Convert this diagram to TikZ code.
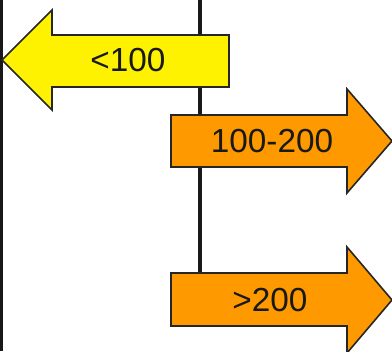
\documentclass[tikz,border=0pt]{standalone}
\usepackage{fontspec}
\setmainfont{Liberation Sans}
\usetikzlibrary{positioning}

\definecolor{rangeorange}{RGB}{255,153,0}

\begin{document}
\begin{tikzpicture}[x=0.75pt,y=-0.75pt,
    axis/.style={line width=2.6pt, black!90},
    lowarrow/.style={fill=yellow, draw=black!85, line width=1.2pt, line join=miter},
    higharrow/.style={fill=rangeorange, draw=black!85, line width=1.2pt, line join=miter},
    rangelabel/.style={font=\fontsize{25}{30}\selectfont, text=black!90}]
    \useasboundingbox (0,0) rectangle (392,351);

    % axis lines
    \coordinate (lefttop) at (1.5,0);
    \coordinate (leftbot) at (1.5,351);
    \coordinate (midtop)  at (200,0);
    \coordinate (midbot)  at (200,273);
    \draw[axis] (lefttop) -- (leftbot);
    \draw[axis] (midtop) -- (midbot);

    % arrows
    \draw[lowarrow] (229,35) -- (52,35) -- (52,10) -- (2,60) -- (52,110) -- (52,87) -- (229,87) -- cycle;
    \draw[higharrow] (171,115) -- (347,115) -- (347,89) -- (392,141) -- (347,193) -- (347,167) -- (171,167) -- cycle;
    \draw[higharrow] (171,273) -- (347,273) -- (347,247) -- (392,300) -- (347,353) -- (347,326) -- (171,326) -- cycle;

    % labels
    \node[rangelabel] (lt100)  at (128,60)  {<100};
    \node[rangelabel] (mid100) at (272,141) {100-200};
    \node[rangelabel] (gt200)  at (270,300) {>200};
\end{tikzpicture}
\end{document}
